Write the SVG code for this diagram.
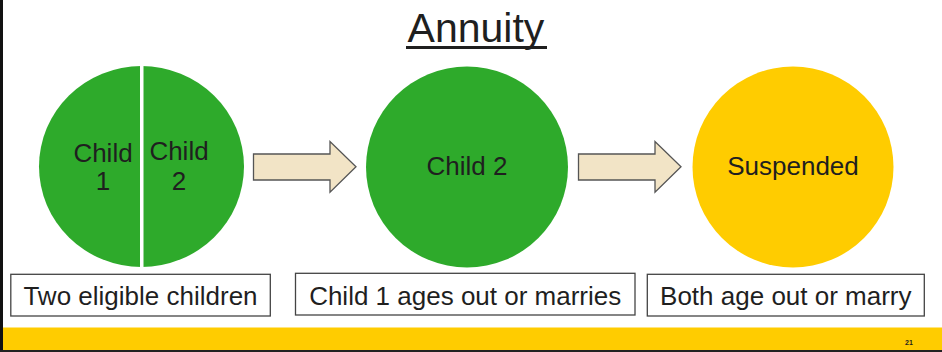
<svg xmlns="http://www.w3.org/2000/svg" width="942" height="352" viewBox="0 0 942 352">
<style>
text{font-family:"Liberation Sans",Arial,sans-serif;fill:#1f1f1f}
.c{font-size:26px;text-anchor:middle}
.lbl{font-size:26px;text-anchor:middle}
.box{fill:#fff;stroke:#444;stroke-width:1.3}
.arr{fill:#f2e4c6;stroke:#555;stroke-width:1.3}
.g{fill:#2eaa2b}
.y{fill:#ffcc00}
</style>
<rect x="0" y="0" width="942" height="352" fill="#fff"/>
<rect x="3" y="327.5" width="939" height="22.5" fill="#ffcc00"/>
<rect x="0" y="0" width="3" height="352" fill="#111"/>
<rect x="0" y="350" width="942" height="2" fill="#222"/>
<text x="909" y="345" font-size="7" font-weight="bold" text-anchor="middle">21</text>
<g id="title">
<text x="476" y="42" font-size="41" text-anchor="middle">Annuity</text>
<rect x="406" y="46" width="141" height="3" fill="#1f1f1f"/>
</g>
<g id="n1">
<ellipse class="g" cx="141.5" cy="166.5" rx="102.5" ry="100.5"/>
<rect x="140" y="64" width="3.5" height="206" fill="#fff"/>
<text class="c" x="103" y="162">Child</text>
<text class="c" x="103" y="189.5">1</text>
<text class="c" x="179" y="159.5">Child</text>
<text class="c" x="179" y="190">2</text>
</g>
<g id="n2">
<ellipse class="g" cx="467" cy="167" rx="101" ry="100.5"/>
<text class="c" x="467" y="175">Child 2</text>
</g>
<g id="n3">
<ellipse class="y" cx="793" cy="167" rx="100.5" ry="100.5"/>
<text class="c" x="793" y="175">Suspended</text>
</g>
<g id="connectors">
<polygon class="arr" points="253.5,154 330,154 330,141.5 356,166.7 330,192.3 330,180 253.5,180"/>
<polygon class="arr" points="578.5,154 655,154 655,141.5 681,166.7 655,192.3 655,180 578.5,180"/>
</g>
<g id="l1">
<rect class="box" x="10.8" y="274.3" width="259.5" height="41.7"/>
<text class="lbl" x="140.5" y="305">Two eligible children</text>
</g>
<g id="l2">
<rect class="box" x="295.5" y="273.3" width="339.5" height="41.7"/>
<text class="lbl" x="465.2" y="304.5">Child 1 ages out or marries</text>
</g>
<g id="l3">
<rect class="box" x="647.3" y="274.3" width="277" height="41.7"/>
<text class="lbl" x="785.8" y="305">Both age out or marry</text>
</g>
</svg>
